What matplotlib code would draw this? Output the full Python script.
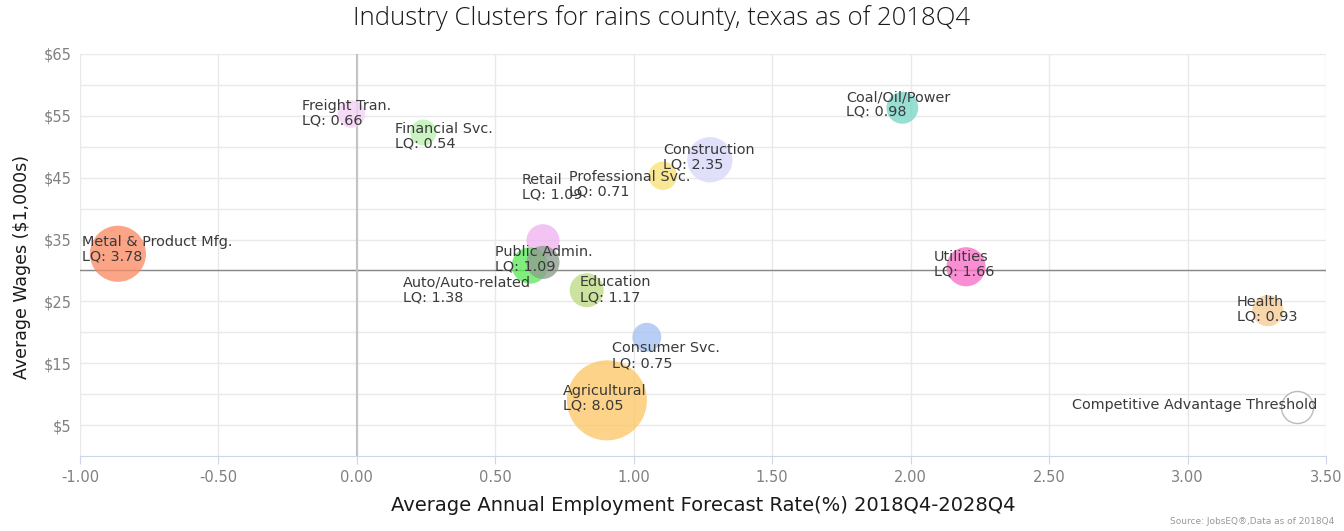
import numpy as np
import matplotlib
matplotlib.use("Agg")
import matplotlib.pyplot as plt

# === DATOS ===
industries = ["Freight Tran.", "Financial Svc.", "Construction", "Professional Svc.",
              "Coal/Oil/Power", "Retail", "Auto/Auto-related", "Public Admin.",
              "Education", "Consumer Svc.", "Agricultural", "Metal & Product Mfg.",
              "Utilities", "Health"]
forecast_rate = [-0.02, 0.24, 1.275, 1.105, 1.97, 0.672, 0.625, 0.672,
                 0.83, 1.047, 0.903, -0.863, 2.20, 3.29]
avg_wages = [55.3, 52.3, 47.9, 45.3, 56.3, 34.8, 30.8, 31.3,
             26.8, 19.2, 9.0, 32.7, 30.6, 23.5]
lq = [0.66, 0.54, 2.35, 0.71, 0.98, 1.09, 1.38, 1.09,
      1.17, 0.75, 8.05, 3.78, 1.66, 0.93]
colors = ["#f4d2f6", "#bdf0b3", "#d9d9fa", "#f9e27a", "#7dd6c8", "#efb5f0",
          "#5fea5f", "#8f9f8f", "#bedc86", "#a7c2f2", "#fcc86a", "#fa8e68",
          "#f872c8", "#f7cd97"]

threshold_x = 3.395
threshold_y = 7.9
threshold_lq = 1.0

x_ticks = [-1.0, -0.5, 0.0, 0.5, 1.0, 1.5, 2.0, 2.5, 3.0, 3.5]
y_ticks = [5, 15, 25, 35, 45, 55, 65]

# offsets de etiquetas en pixeles (borde izq., centro vertical) desde la burbuja
label_offsets = {
    "Freight Tran.": (-49, 1), "Financial Svc.": (-28, -3.5),
    "Construction": (-47, 2.5), "Professional Svc.": (-94, -8),
    "Coal/Oil/Power": (-56, 3.5), "Retail": (-21, 53.5),
    "Public Admin.": (-48, 3), "Auto/Auto-related": (-127, -24.5),
    "Education": (-7, 0.5), "Consumer Svc.": (-35, -18.5),
    "Agricultural": (-44, 2), "Metal & Product Mfg.": (-36, 4.5),
    "Utilities": (-32, 2.5), "Health": (-31, 1.5),
}

# === TAMAÑO DE BURBUJAS (como highcharts, sizeBy area) ===
min_d, max_d = 26.0, 80.0  # px
zmin, zmax = min(lq), max(lq)

def bubble_size(z):
    pos = (z - zmin) / (zmax - zmin)
    d_px = np.sqrt(min_d ** 2 + pos * (max_d ** 2 - min_d ** 2))
    return (d_px * 0.72) ** 2

# === FIGURA ===
fig = plt.figure(figsize=(13.44, 5.31), dpi=100)
ax = fig.add_axes([80 / 1344, 75 / 531, 1246 / 1344, 402 / 531])

ax.set_xlim(-1.0, 3.5)
ax.set_ylim(0, 65)

# grid
ax.set_xticks(x_ticks)
ax.set_xticklabels([f"{t:.2f}" for t in x_ticks])
ax.set_yticks(np.arange(5, 66, 5))
ax.set_yticklabels([f"${int(t)}" if t in y_ticks else "" for t in np.arange(5, 66, 5)])
ax.grid(True, color="#e9e9e9", linewidth=1, zorder=0)
ax.set_axisbelow(True)

for side in ["top", "right", "left"]:
    ax.spines[side].set_visible(False)
ax.spines["bottom"].set_color("#ccd6eb")
ax.tick_params(axis="x", colors="#ccd6eb", length=6, direction="out", labelcolor="#808080",
               labelsize=10.5, pad=4)
ax.tick_params(axis="y", length=0, labelcolor="#808080", labelsize=10.5, pad=6)

# lineas de umbral
ax.axhline(30, color="#888888", linewidth=1, zorder=1)
ax.axvline(0, color="#c4c4c4", linewidth=1.5, zorder=1)

# burbujas
for name, x, y, z, c in zip(industries, forecast_rate, avg_wages, lq, colors):
    ax.scatter(x, y, s=bubble_size(z), color=c, alpha=0.8, edgecolors="none", zorder=3)

ax.scatter(threshold_x, threshold_y, s=bubble_size(threshold_lq), facecolor="white",
           edgecolors="#bbbbbb", linewidths=1, zorder=3)

# etiquetas
for name, x, y, z in zip(industries, forecast_rate, avg_wages, lq):
    dx, dy = label_offsets[name]
    ax.annotate(f"{name}\nLQ: {z:.2f}", (x, y), xytext=(dx, dy), textcoords="offset pixels",
                ha="left", va="center", fontsize=10.4, color="#3a3a3a",
                linespacing=1.05, zorder=5)

ax.annotate("Competitive Advantage Threshold", (threshold_x, threshold_y), xytext=(-225, 2),
            textcoords="offset pixels", ha="left", va="center", fontsize=10.4,
            color="#3a3a3a", zorder=5)

# titulos
fig.text(0.4926, 1 - 18 / 531, "Industry Clusters for rains county, texas as of 2018Q4",
         ha="center", va="center", fontsize=18.5, color="#1a1a1a",
         family="Open Sans", fontweight="light")
ax.set_xlabel("Average Annual Employment Forecast Rate(%) 2018Q4-2028Q4",
              fontsize=14, color="#1a1a1a", labelpad=8)
ax.set_ylabel("Average Wages ($1,000s)", fontsize=12.5, color="#1a1a1a")
ax.yaxis.set_label_coords(-0.039, 0.47)

fig.text(1 - 10 / 1344, 1 - 522 / 531, "Source: JobsEQ®,Data as of 2018Q4",
         ha="right", va="center", fontsize=6.5, color="#999999")

fig.savefig("out.png", dpi=100)
